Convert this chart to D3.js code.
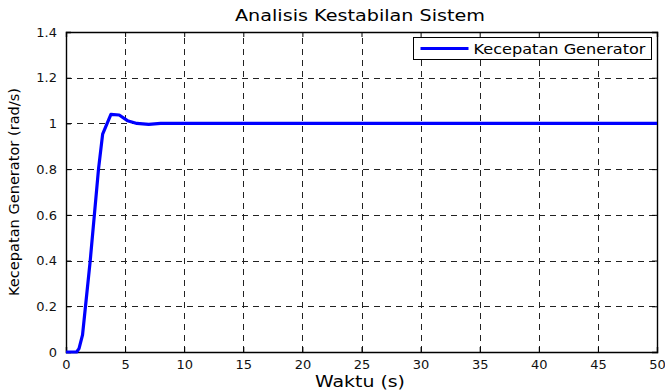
<!DOCTYPE html>
<html>
<head>
<meta charset="utf-8">
<script src="https://cdn.jsdelivr.net/npm/d3@7"></script>
<style>
  body { margin: 0; background: #fff; }
  text { font-family: "DejaVu Sans", Verdana, sans-serif; }
</style>
</head>
<body>
<div id="canvas"></div>
<script>
// chart data
const timeVals = [0, 0.9, 1.1, 1.4, 1.65, 2.05, 2.4, 2.75, 3.1, 3.8, 4.5, 5.2, 6.0, 7.0, 8.0, 10, 50];
const speedVals = [0, 0, 0.015, 0.075, 0.2, 0.4, 0.6, 0.8, 0.953, 1.04, 1.037, 1.012, 1.0, 0.996, 1.0, 1.0, 1.0];
const xTicks = [0, 5, 10, 15, 20, 25, 30, 35, 40, 45, 50];
const yTicks = [0, 0.2, 0.4, 0.6, 0.8, 1, 1.2, 1.4];

const width = 665;
const height = 392;
const margin = { left: 66, right: 8, top: 32, bottom: 40 };

const svg = d3.select('#canvas')
  .append('svg')
  .attr('width', width)
  .attr('height', height);

const x = d3.scaleLinear().domain([0, 50]).range([margin.left, width - margin.right]);
const y = d3.scaleLinear().domain([0, 1.4]).range([height - margin.bottom, margin.top]);

// grid lines
svg.append('g')
  .selectAll('line')
  .data(xTicks.slice(1, -1))
  .enter().append('line')
  .attr('x1', d => Math.round(x(d)) + 0.5).attr('x2', d => Math.round(x(d)) + 0.5)
  .attr('y1', y(0)).attr('y2', y(1.4))
  .attr('stroke', '#222').attr('stroke-width', 1)
  .attr('stroke-dasharray', '6,5');

svg.append('g')
  .selectAll('line')
  .data(yTicks.slice(1, -1))
  .enter().append('line')
  .attr('x1', x(0)).attr('x2', x(50))
  .attr('y1', d => Math.round(y(d)) + 0.5).attr('y2', d => Math.round(y(d)) + 0.5)
  .attr('stroke', '#222').attr('stroke-width', 1)
  .attr('stroke-dasharray', '6,5');

// axes, ticks pointing inward like matlab
const fmtY = d => d3.format('')(+d.toFixed(1));
svg.append('g')
  .attr('transform', `translate(0,${y(0)})`)
  .call(d3.axisBottom(x).tickValues(xTicks).tickSize(-5).tickPadding(8).tickFormat(d3.format('d')));
svg.append('g')
  .attr('transform', `translate(${x(0)},0)`)
  .call(d3.axisLeft(y).tickValues(yTicks).tickSize(-5).tickPadding(9).tickFormat(fmtY));

svg.append('g')
  .attr('transform', `translate(0,${y(1.4)})`)
  .call(d3.axisTop(x).tickValues(xTicks).tickSize(-5).tickFormat(''));
svg.append('g')
  .attr('transform', `translate(${x(50)},0)`)
  .call(d3.axisRight(y).tickValues(yTicks).tickSize(-5).tickFormat(''));

svg.selectAll('.domain').attr('stroke', '#000').attr('stroke-width', 1.4);
svg.selectAll('.tick line').attr('stroke', '#000');
svg.selectAll('.tick text')
  .style('font-family', '"DejaVu Sans", Verdana, sans-serif')
  .style('font-size', '13px')
  .attr('fill', '#111');

// the response curve
const line = d3.line()
  .x((d, i) => x(timeVals[i]))
  .y(d => y(d));

svg.append('path')
  .datum(speedVals)
  .attr('fill', 'none')
  .attr('stroke', '#0000ff')
  .attr('stroke-width', 3.2)
  .attr('stroke-linejoin', 'round')
  .attr('d', line);

// title and labels
svg.append('text')
  .attr('x', 360)
  .attr('y', 21)
  .attr('text-anchor', 'middle')
  .attr('textLength', 250)
  .attr('lengthAdjust', 'spacingAndGlyphs')
  .style('font-size', '15px')
  .text('Analisis Kestabilan Sistem');

svg.append('text')
  .attr('x', 360)
  .attr('y', 387)
  .attr('text-anchor', 'middle')
  .attr('textLength', 90)
  .attr('lengthAdjust', 'spacingAndGlyphs')
  .style('font-size', '15px')
  .text('Waktu (s)');

svg.append('text')
  .attr('transform', `translate(19,${(y(0) + y(1.4)) / 2}) rotate(-90)`)
  .attr('text-anchor', 'middle')
  .attr('textLength', 208)
  .attr('lengthAdjust', 'spacingAndGlyphs')
  .style('font-size', '14px')
  .text('Kecepatan Generator (rad/s)');

// legend box
const legend = svg.append('g').attr('transform', 'translate(413.5,37.5)');
legend.append('rect')
  .attr('width', 238).attr('height', 22)
  .attr('fill', '#fff').attr('stroke', '#000').attr('stroke-width', 1);
legend.append('line')
  .attr('x1', 7).attr('x2', 55).attr('y1', 11).attr('y2', 11)
  .attr('stroke', '#0000ff').attr('stroke-width', 3);
legend.append('text')
  .attr('x', 60).attr('y', 16)
  .attr('textLength', 172)
  .attr('lengthAdjust', 'spacingAndGlyphs')
  .style('font-size', '14px')
  .text('Kecepatan Generator');
</script>
</body>
</html>
